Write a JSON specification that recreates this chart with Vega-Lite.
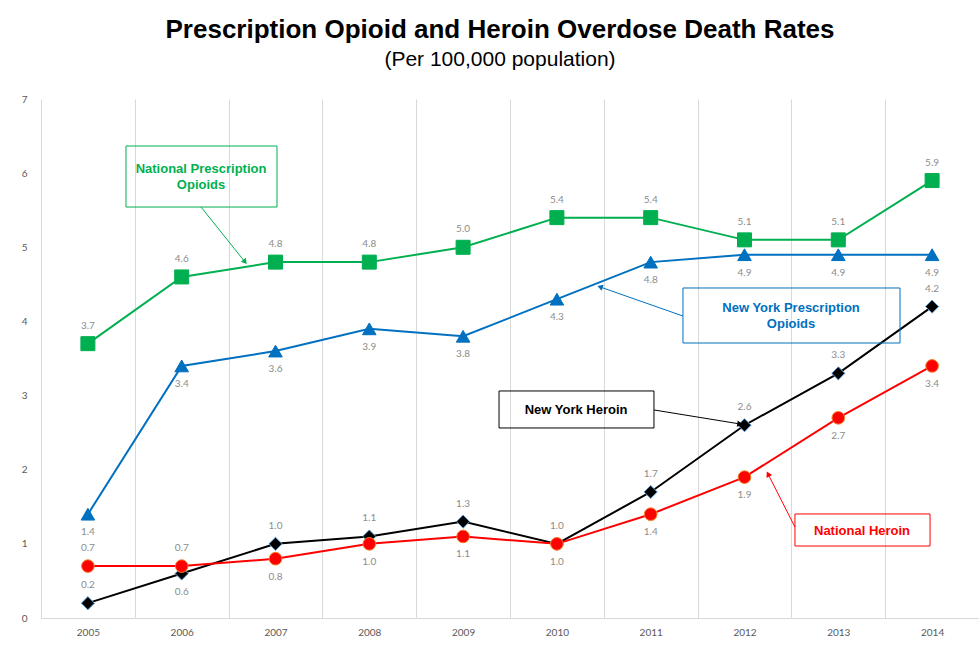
{
  "$schema": "https://vega.github.io/schema/vega-lite/v6.json",
  "width": 938,
  "height": 519,
  "autosize": {"type": "none"},
  "padding": {"left": 41, "top": 99, "right": 0, "bottom": 44},
  "background": "white",
  "title": {
    "text": "Prescription Opioid and Heroin Overdose Death Rates",
    "subtitle": "(Per 100,000 population)",
    "font": "Liberation Sans",
    "fontSize": 26,
    "fontWeight": "bold",
    "color": "#000000",
    "subtitleFont": "Liberation Sans",
    "subtitleFontSize": 21,
    "subtitleColor": "#000000",
    "subtitlePadding": 6,
    "anchor": "middle",
    "dx": -10,
    "offset": 24
  },
  "config": {
    "view": {"stroke": null},
    "axis": {"labelFont": "Lato", "labelColor": "#595959"}
  },
  "datasets": {
    "series": [
      {"year": 2005, "series": "National Prescription Opioids", "value": 3.7},
      {"year": 2006, "series": "National Prescription Opioids", "value": 4.6},
      {"year": 2007, "series": "National Prescription Opioids", "value": 4.8},
      {"year": 2008, "series": "National Prescription Opioids", "value": 4.8},
      {"year": 2009, "series": "National Prescription Opioids", "value": 5.0},
      {"year": 2010, "series": "National Prescription Opioids", "value": 5.4},
      {"year": 2011, "series": "National Prescription Opioids", "value": 5.4},
      {"year": 2012, "series": "National Prescription Opioids", "value": 5.1},
      {"year": 2013, "series": "National Prescription Opioids", "value": 5.1},
      {"year": 2014, "series": "National Prescription Opioids", "value": 5.9},
      {"year": 2005, "series": "New York Prescription Opioids", "value": 1.4},
      {"year": 2006, "series": "New York Prescription Opioids", "value": 3.4},
      {"year": 2007, "series": "New York Prescription Opioids", "value": 3.6},
      {"year": 2008, "series": "New York Prescription Opioids", "value": 3.9},
      {"year": 2009, "series": "New York Prescription Opioids", "value": 3.8},
      {"year": 2010, "series": "New York Prescription Opioids", "value": 4.3},
      {"year": 2011, "series": "New York Prescription Opioids", "value": 4.8},
      {"year": 2012, "series": "New York Prescription Opioids", "value": 4.9},
      {"year": 2013, "series": "New York Prescription Opioids", "value": 4.9},
      {"year": 2014, "series": "New York Prescription Opioids", "value": 4.9},
      {"year": 2005, "series": "New York Heroin", "value": 0.2},
      {"year": 2006, "series": "New York Heroin", "value": 0.6},
      {"year": 2007, "series": "New York Heroin", "value": 1.0},
      {"year": 2008, "series": "New York Heroin", "value": 1.1},
      {"year": 2009, "series": "New York Heroin", "value": 1.3},
      {"year": 2010, "series": "New York Heroin", "value": 1.0},
      {"year": 2011, "series": "New York Heroin", "value": 1.7},
      {"year": 2012, "series": "New York Heroin", "value": 2.6},
      {"year": 2013, "series": "New York Heroin", "value": 3.3},
      {"year": 2014, "series": "New York Heroin", "value": 4.2},
      {"year": 2005, "series": "National Heroin", "value": 0.7},
      {"year": 2006, "series": "National Heroin", "value": 0.7},
      {"year": 2007, "series": "National Heroin", "value": 0.8},
      {"year": 2008, "series": "National Heroin", "value": 1.0},
      {"year": 2009, "series": "National Heroin", "value": 1.1},
      {"year": 2010, "series": "National Heroin", "value": 1.0},
      {"year": 2011, "series": "National Heroin", "value": 1.4},
      {"year": 2012, "series": "National Heroin", "value": 1.9},
      {"year": 2013, "series": "National Heroin", "value": 2.7},
      {"year": 2014, "series": "National Heroin", "value": 3.4}
    ],
    "boxes": [
      {"series": "National Prescription Opioids", "label": "National Prescription\nOpioids", "x": 2005.406, "x2": 2007.016, "y": 6.366, "y2": 5.543, "tx": 2006.206, "ty": 6.056},
      {"series": "New York Prescription Opioids", "label": "New York Prescription\nOpioids", "x": 2011.344, "x2": 2013.658, "y": 4.451, "y2": 3.709, "tx": 2012.496, "ty": 4.181},
      {"series": "New York Heroin", "label": "New York Heroin", "x": 2009.383, "x2": 2011.035, "y": 3.062, "y2": 2.563, "tx": 2010.204, "ty": 2.806},
      {"series": "National Heroin", "label": "National Heroin", "x": 2012.538, "x2": 2013.978, "y": 1.403, "y2": 0.971, "tx": 2013.253, "ty": 1.173}
    ],
    "arrows": [
      {"series": "National Prescription Opioids", "x": 2006.206, "y": 5.543, "x2": 2006.675, "y2": 4.802},
      {"series": "New York Prescription Opioids", "x": 2011.344, "y": 4.073, "x2": 2010.46, "y2": 4.465},
      {"series": "New York Heroin", "x": 2011.035, "y": 2.806, "x2": 2011.952, "y2": 2.617},
      {"series": "National Heroin", "x": 2012.538, "y": 1.227, "x2": 2012.251, "y2": 1.942}
    ]
  },
  "layer": [
    {
      "data": {"name": "series"},
      "mark": {"type": "line", "strokeWidth": 2},
      "encoding": {
        "x": {
          "field": "year", "type": "quantitative",
          "scale": {"domain": [2004.5, 2014.5], "nice": false, "zero": false},
          "axis": {
            "title": null,
            "values": [2005, 2006, 2007, 2008, 2009, 2010, 2011, 2012, 2013, 2014],
            "format": "d",
            "grid": true,
            "gridColor": "#D9D9D9",
            "gridWidth": 1,
            "ticks": false,
            "tickOffset": -46.9,
            "labelOffset": 46.9,
            "domain": true,
            "domainColor": "#D9D9D9",
            "domainWidth": 1,
            "labelFontSize": 10,
            "labelPadding": 9,
            "labelFlush": false
          }
        },
        "y": {
          "field": "value", "type": "quantitative",
          "scale": {"domain": [0, 7], "nice": false},
          "axis": {
            "title": null,
            "values": [0, 1, 2, 3, 4, 5, 6, 7],
            "format": "d",
            "grid": false,
            "ticks": false,
            "domain": false,
            "labelFontSize": 10,
            "labelPadding": 14
          }
        },
        "color": {
          "field": "series", "type": "nominal",
          "scale": {
            "domain": ["National Prescription Opioids", "New York Prescription Opioids", "New York Heroin", "National Heroin"],
            "range": ["#00B050", "#0070C0", "#000000", "#FF0000"]
          },
          "legend": null
        }
      }
    },
    {
      "data": {"name": "series"},
      "mark": {"type": "point", "filled": true, "opacity": 1, "strokeWidth": 1},
      "encoding": {
        "x": {"field": "year", "type": "quantitative"},
        "y": {"field": "value", "type": "quantitative"},
        "shape": {
          "field": "series", "type": "nominal",
          "scale": {
            "domain": ["National Prescription Opioids", "New York Prescription Opioids", "New York Heroin", "National Heroin"],
            "range": ["square", "triangle-up", "diamond", "circle"]
          },
          "legend": null
        },
        "size": {
          "field": "series", "type": "nominal",
          "scale": {
            "domain": ["National Prescription Opioids", "New York Prescription Opioids", "New York Heroin", "National Heroin"],
            "range": [196, 160, 140, 160]
          },
          "legend": null
        },
        "fill": {
          "field": "series", "type": "nominal",
          "scale": {
            "domain": ["National Prescription Opioids", "New York Prescription Opioids", "New York Heroin", "National Heroin"],
            "range": ["#00B050", "#0070C0", "#000000", "#FF0000"]
          },
          "legend": null
        },
        "stroke": {
          "field": "series", "type": "nominal",
          "scale": {
            "domain": ["National Prescription Opioids", "New York Prescription Opioids", "New York Heroin", "National Heroin"],
            "range": ["#00B050", "#0070C0", "#5B9BD5", "#F4802A"]
          },
          "legend": null
        }
      }
    },
    {
      "data": {"name": "series"},
      "transform": [
        {"filter": "datum.series == 'National Prescription Opioids' || (datum.series == 'New York Heroin' && datum.year != 2006) || (datum.series == 'National Heroin' && datum.year <= 2006)"}
      ],
      "mark": {"type": "text", "dy": -18, "font": "Lato", "fontSize": 10, "color": "#8C8C8C", "baseline": "middle"},
      "encoding": {
        "x": {"field": "year", "type": "quantitative"},
        "y": {"field": "value", "type": "quantitative"},
        "text": {"field": "value", "type": "quantitative", "format": ".1f"}
      }
    },
    {
      "data": {"name": "series"},
      "transform": [
        {"filter": "!(datum.series == 'National Prescription Opioids' || (datum.series == 'New York Heroin' && datum.year != 2006) || (datum.series == 'National Heroin' && datum.year <= 2006))"}
      ],
      "mark": {"type": "text", "dy": 18, "font": "Lato", "fontSize": 10, "color": "#8C8C8C", "baseline": "middle"},
      "encoding": {
        "x": {"field": "year", "type": "quantitative"},
        "y": {"field": "value", "type": "quantitative"},
        "text": {"field": "value", "type": "quantitative", "format": ".1f"}
      }
    },
    {
      "data": {"name": "boxes"},
      "mark": {"type": "rect", "filled": false, "strokeWidth": 1},
      "encoding": {
        "x": {"field": "x", "type": "quantitative"},
        "x2": {"field": "x2"},
        "y": {"field": "y", "type": "quantitative"},
        "y2": {"field": "y2"},
        "color": {"field": "series", "type": "nominal", "legend": null}
      }
    },
    {
      "data": {"name": "boxes"},
      "mark": {"type": "text", "font": "Liberation Sans", "fontWeight": "bold", "fontSize": 13, "lineBreak": "\n", "lineHeight": 16, "align": "center", "baseline": "middle"},
      "encoding": {
        "x": {"field": "tx", "type": "quantitative"},
        "y": {"field": "ty", "type": "quantitative"},
        "text": {"field": "label"},
        "color": {"field": "series", "type": "nominal", "legend": null}
      }
    },
    {
      "data": {"name": "arrows"},
      "mark": {"type": "rule", "strokeWidth": 1},
      "encoding": {
        "x": {"field": "x", "type": "quantitative"},
        "x2": {"field": "x2"},
        "y": {"field": "y", "type": "quantitative"},
        "y2": {"field": "y2"},
        "color": {"field": "series", "type": "nominal", "legend": null}
      }
    },
    {
      "data": {"name": "arrows"},
      "mark": {"type": "point", "shape": "triangle-up", "filled": true, "size": 40, "opacity": 1},
      "encoding": {
        "x": {"field": "x2", "type": "quantitative"},
        "y": {"field": "y2", "type": "quantitative"},
        "angle": {
          "field": "series", "type": "ordinal",
          "scale": {
            "type": "ordinal",
            "domain": ["National Prescription Opioids", "New York Prescription Opioids", "New York Heroin", "National Heroin"],
            "range": [141, 289, 99, 333]
          },
          "legend": null
        },
        "color": {"field": "series", "type": "nominal", "legend": null}
      }
    }
  ]
}
